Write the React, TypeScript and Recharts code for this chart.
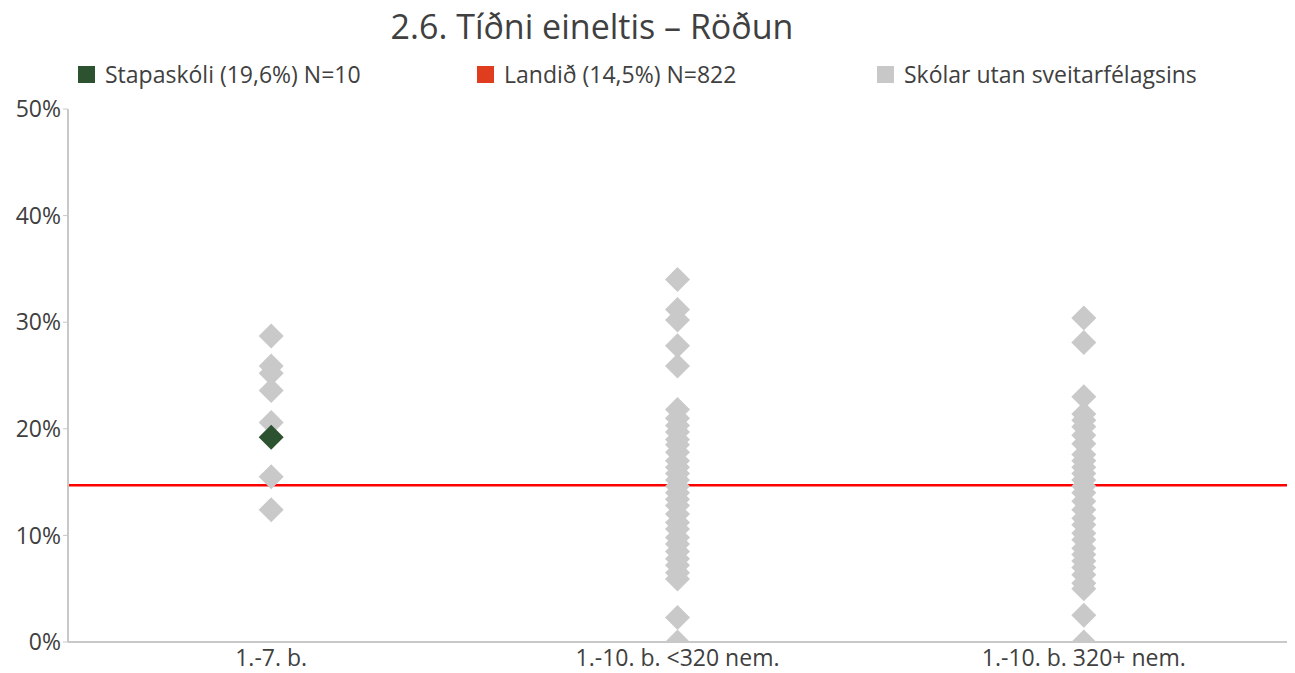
import React from 'react';
import {
  ScatterChart,
  Scatter,
  XAxis,
  YAxis,
  ReferenceLine,
} from 'recharts';

const categories = ['1.-7. b.', '1.-10. b. <320 nem.', '1.-10. b. 320+ nem.'];

// other schools, per category (share of students, 0-1)
const othersSmall = [0.287, 0.259, 0.252, 0.236, 0.206, 0.155, 0.124];
const othersMid = [
  0.34, 0.312, 0.302, 0.278, 0.259, 0.218, 0.21, 0.203, 0.197, 0.19, 0.185,
  0.178, 0.17, 0.164, 0.158, 0.152, 0.146, 0.14, 0.134, 0.128, 0.12, 0.112,
  0.106, 0.098, 0.092, 0.085, 0.078, 0.072, 0.065, 0.059, 0.023, 0.0,
];
const othersLarge = [
  0.304, 0.281, 0.23, 0.214, 0.208, 0.202, 0.194, 0.186, 0.176, 0.17, 0.164,
  0.158, 0.152, 0.146, 0.14, 0.132, 0.124, 0.116, 0.11, 0.102, 0.096, 0.088,
  0.082, 0.076, 0.07, 0.063, 0.055, 0.05, 0.025, 0.0,
];

const schoolValue = 0.192; // Stapaskóli
const schoolCategory = 0;
const nationalValue = 0.147; // Landið

const yTicks = [0, 0.1, 0.2, 0.3, 0.4, 0.5];

const grayData = [othersSmall, othersMid, othersLarge].flatMap((vals, i) =>
  vals.map((v) => ({ x: i + 0.5, y: v }))
);
const greenData = [{ x: schoolCategory + 0.5, y: schoolValue }];

const FONT = '"Open Sans", "Noto Sans", sans-serif';
const TEXT = '#404040';

function Diamond(props: any) {
  const { cx, cy, fill } = props;
  const r = 12.5;
  return (
    <polygon
      points={`${cx},${cy - r} ${cx + r},${cy} ${cx},${cy + r} ${cx - r},${cy}`}
      fill={fill}
    />
  );
}

function LegendItem({ color, label, left }: { color: string; label: string; left: number }) {
  return (
    <div style={{ position: 'absolute', left, top: 58, display: 'flex', alignItems: 'center' }}>
      <div style={{ width: 17, height: 17, background: color, marginRight: 10 }} />
      <span style={{ fontSize: 23, color: TEXT }}>{label}</span>
    </div>
  );
}

export default function App() {
  return (
    <div
      style={{
        position: 'absolute',
        left: 0,
        top: 0,
        width: 1295,
        height: 673,
        background: '#fff',
        fontFamily: FONT,
      }}
    >
      <div
        style={{
          position: 'absolute',
          top: 3,
          left: 0,
          width: 1184,
          textAlign: 'center',
          fontSize: 34,
          color: TEXT,
        }}
      >
        2.6. Tíðni eineltis – Röðun
      </div>
      <LegendItem color="#2d5230" label="Stapaskóli (19,6%) N=10" left={78} />
      <LegendItem color="#e03c1e" label="Landið (14,5%) N=822" left={477} />
      <LegendItem color="#c8c8c8" label="Skólar utan sveitarfélagsins" left={877} />

      <ScatterChart
        width={1295}
        height={673}
        margin={{ top: 109, right: 8, bottom: 0, left: 8 }}
        style={{ position: 'absolute', left: 0, top: 0 }}
      >
        <XAxis
          type="number"
          dataKey="x"
          domain={[0, 3]}
          ticks={[0.5, 1.5, 2.5]}
          tickFormatter={(v: number) => categories[Math.floor(v)]}
          tickLine={false}
          axisLine={{ stroke: '#c8c8c8', strokeWidth: 2 }}
          tick={{ fill: TEXT, fontSize: 23, fontFamily: FONT }}
          tickMargin={2}
          height={31}
        />
        <YAxis
          type="number"
          dataKey="y"
          domain={[0, 0.5]}
          ticks={yTicks}
          tickFormatter={(v: number) => `${Math.round(v * 100)}%`}
          axisLine={{ stroke: '#c8c8c8', strokeWidth: 2 }}
          tickLine={{ stroke: '#c8c8c8' }}
          tickSize={5}
          tick={{ fill: TEXT, fontSize: 23, fontFamily: FONT }}
          width={60}
          allowDataOverflow
        />
        <ReferenceLine y={nationalValue} stroke="#ff0000" strokeWidth={2.5} />
        <Scatter data={grayData} fill="#c9c9c9" shape={Diamond} isAnimationActive={false} />
        <Scatter data={greenData} fill="#2d5230" shape={Diamond} isAnimationActive={false} />
      </ScatterChart>
    </div>
  );
}
